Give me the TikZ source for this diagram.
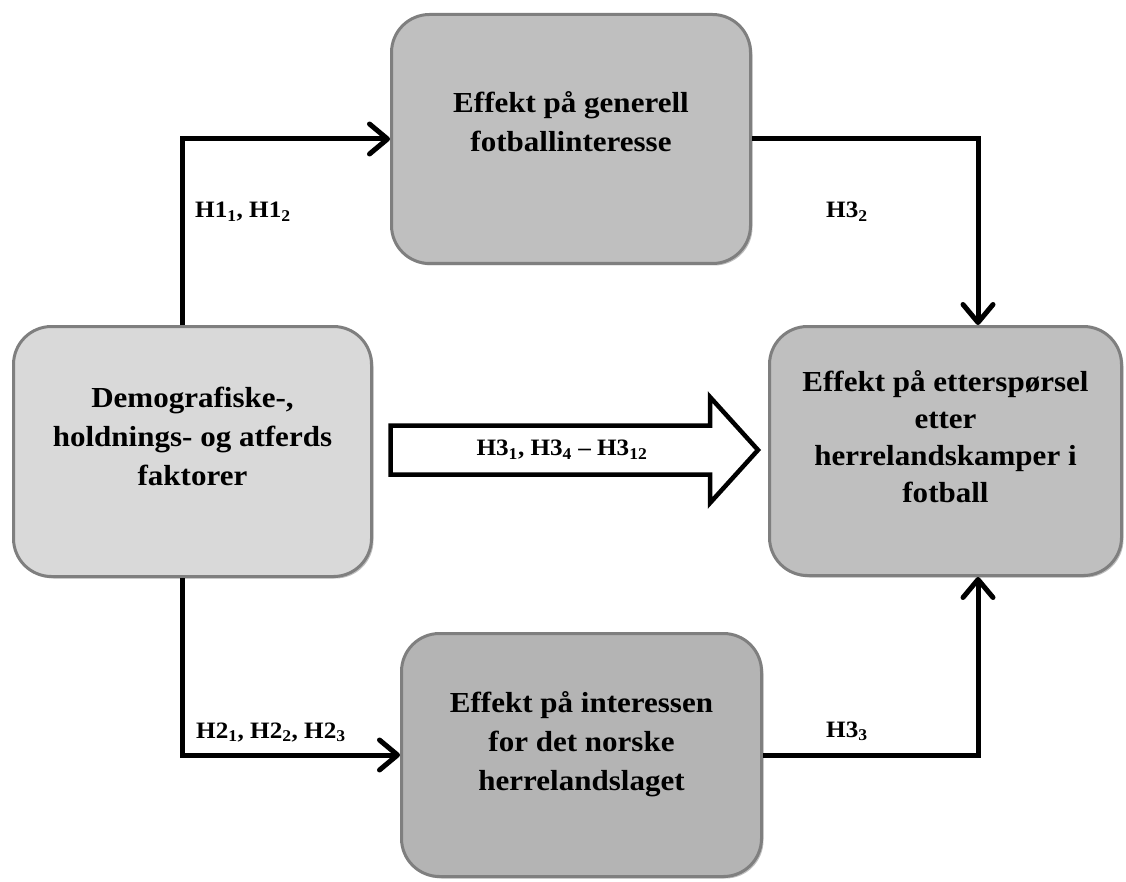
\documentclass[tikz,border=0pt]{standalone}
\usepackage{fontspec}
\setmainfont{Liberation Serif}[FakeStretch=1.07]
\usetikzlibrary{arrows.meta,shadows}
\definecolor{boxline}{HTML}{7F7F7F}
\definecolor{leftfill}{HTML}{D9D9D9}
\definecolor{midfill}{HTML}{BFBFBF}
\definecolor{botfill}{HTML}{B4B4B4}
\begin{document}
\begin{tikzpicture}[x=1pt,y=-1pt,
  box/.style={draw=boxline, line width=3pt, rounded corners=38pt, inner sep=0pt,
    drop shadow={shadow xshift=2pt, shadow yshift=-2pt, fill=black, opacity=0.25}},
  boxtext/.style={align=center, inner sep=0pt, font=\fontsize{29}{39}\selectfont\bfseries},
  lab/.style={inner sep=0pt, font=\fontsize{23.5}{27}\selectfont\bfseries},
  conn/.style={line width=5pt, miter limit=10, -{Straight Barb[length=18pt,width=30pt,round]}}]
\useasboundingbox (0,0) rectangle (1126,882);
% boxes
\node[box, fill=midfill, minimum width=359pt, minimum height=249pt] (T) at (571,139) {};
\node[box, fill=leftfill, minimum width=358pt, minimum height=250pt] (L) at (192.5,451.5) {};
\node[box, fill=midfill, minimum width=352pt, minimum height=249pt] (R) at (945.5,451) {};
\node[box, fill=botfill, minimum width=360pt, minimum height=243pt] (B) at (581.5,755) {};
% box texts
\node[boxtext] (Ttxt) at (571,122) {Effekt på generell\\fotballinteresse};
\node[boxtext] (Ltxt) at (192.5,436) {Demografiske-,\\holdnings- og atferds\\faktorer};
\node[boxtext, font=\fontsize{29}{37}\selectfont\bfseries] (Rtxt) at (945.5,437) {Effekt på etterspørsel\\etter\\herrelandskamper i\\fotball};
\node[boxtext] (Btxt) at (581.5,744) {Effekt på interessen\\for det norske\\herrelandslaget};
% helper coordinates for connector columns
\coordinate (c1) at (182,0);
\coordinate (c3) at (978,0);
% connectors
\draw[conn] (L.north -| c1) |- (T.west);
\draw[conn] (L.south -| c1) |- (B.west);
\draw[conn] (T.east) -| (R.north -| c3);
\draw[conn] (B.east) -| (R.south -| c3);
% block arrow
\draw[line width=4.5pt, fill=white, miter limit=10]
  (390.5,425.5) -- (710,425.5) -- (710,397) -- (758,450) -- (710,503) -- (710,474.5) -- (390.5,474.5) -- cycle;
% labels
\node[lab, anchor=base west] (l1) at (195,218) {H1\textsubscript{1}, H1\textsubscript{2}};
\node[lab, anchor=base west] (l32) at (826,218) {H3\textsubscript{2}};
\node[lab, anchor=base west] (l2) at (196,738) {H2\textsubscript{1}, H2\textsubscript{2}, H2\textsubscript{3}};
\node[lab, anchor=base west] (l33) at (826,737) {H3\textsubscript{3}};
\node[lab] (lm) at (562,450) {H3\textsubscript{1}, H3\textsubscript{4} -- H3\textsubscript{12}};
\end{tikzpicture}
\end{document}
